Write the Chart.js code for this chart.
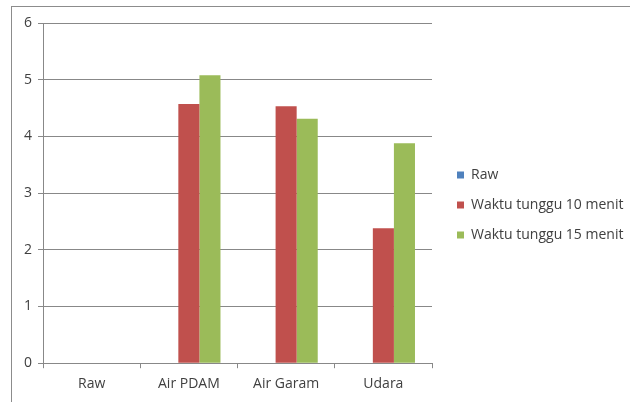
<!DOCTYPE html>
<html>
<head>
<meta charset="utf-8">
<script src="https://cdn.jsdelivr.net/npm/chart.js@4"></script>
<style>
  html, body { margin: 0; padding: 0; background: #fff; }
  #wrap { position: relative; width: 630px; height: 402px; overflow: hidden; }
  #frame { position: absolute; left: 11px; top: 6px; width: 660px; height: 440px; border: 1px solid #8c8c8c; box-sizing: border-box; }
  canvas { position: absolute; left: 0; top: 0; }
</style>
</head>
<body>
<div id="wrap">
  <div id="frame"></div>
  <canvas id="c" width="630" height="402"></canvas>
</div>
<script>
  var categories = ["Raw", "Air PDAM", "Air Garam", "Udara"];
  var rawValues = [0, 0, 0, 0];
  var wait10 = [0, 4.57, 4.53, 2.38];
  var wait15 = [0, 5.08, 4.31, 3.88];
  var yTicks = [0, 1, 2, 3, 4, 5, 6];

  var font = { family: "'Open Sans', sans-serif", size: 14 };
  var plotRight = 432;   // right edge of plot area
  var legendShiftX = 9;  // legend sits a bit right of the plot
  var legendShiftY = -6; // and slightly above centre

  // keep the legend to a fixed width so the plot ends where it should
  var legendFix = {
    id: "legendFix",
    beforeInit: function (chart) {
      var lg = chart.legend;
      var fit = lg.fit;
      lg.fit = function () {
        fit.call(this);
        this.width = chart.width - plotRight - chart.options.layout.padding.right;
      };
    },
    afterLayout: function (chart) {
      var lg = chart.legend;
      lg.left += legendShiftX;
      lg.right += legendShiftX;
      lg.top += legendShiftY;
      lg.bottom += legendShiftY;
    }
  };

  new Chart(document.getElementById("c").getContext("2d"), {
    type: "bar",
    data: {
      labels: categories,
      datasets: [
        { label: "Raw", data: rawValues, backgroundColor: "#4F81BD" },
        { label: "Waktu tunggu 10 menit", data: wait10, backgroundColor: "#C0504D" },
        { label: "Waktu tunggu 15 menit", data: wait15, backgroundColor: "#9BBB59" }
      ]
    },
    options: {
      responsive: false,
      animation: false,
      devicePixelRatio: 1,
      layout: { padding: { left: 18, top: 23, right: 0, bottom: 3 } },
      datasets: { bar: { categoryPercentage: 0.65, barPercentage: 1 } },
      scales: {
        y: {
          min: 0,
          max: 6,
          afterBuildTicks: function (axis) {
            axis.ticks = yTicks.map(function (v) { return { value: v }; });
          },
          ticks: { color: "#404040", font: font, padding: 6 },
          grid: { color: "#888", tickLength: 5, lineWidth: 1 },
          border: { color: "#888" }
        },
        x: {
          ticks: { color: "#404040", font: font, padding: 7 },
          grid: { offset: true, drawOnChartArea: false, color: "#888", tickLength: 5 },
          border: { color: "#888" }
        }
      },
      plugins: {
        legend: {
          position: "right",
          labels: {
            color: "#404040",
            font: font,
            boxWidth: 7,
            boxHeight: 7,
            padding: 16
          }
        },
        tooltip: { enabled: false }
      }
    },
    plugins: [legendFix]
  });
</script>
</body>
</html>
